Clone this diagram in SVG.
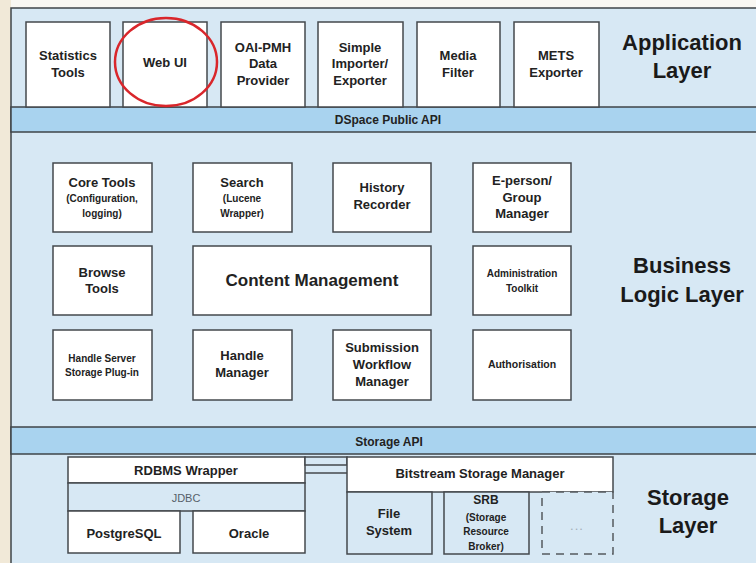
<svg xmlns="http://www.w3.org/2000/svg" width="756" height="563" viewBox="0 0 756 563">
<style>
.bg{fill:#d7e8f4;stroke:#3f4448;stroke-width:1.5}
.bar{fill:#a9d3ef;stroke:#3f4448;stroke-width:1.5}
.box{fill:#ffffff;stroke:#44484c;stroke-width:1.5}
.lbox{fill:#d7e8f4;stroke:#44484c;stroke-width:1.5}
text{font-family:"Liberation Sans",Arial,sans-serif;font-weight:bold;fill:#222;text-anchor:middle}
.t13{font-size:13px}
.t12{font-size:12px}
.t10{font-size:10px}
.big{font-size:22px;fill:#1a1a1a}
</style>
<rect x="0" y="0" width="756" height="563" fill="#f9f7f2"/>
<rect x="0" y="0" width="11" height="563" fill="#f1e9d8"/>
<g id="layers">
<rect class="bg" x="11" y="8" width="760" height="570"/>
<rect class="bar" x="11" y="107" width="760" height="25"/>
<rect class="bar" x="11" y="427" width="760" height="27"/>
<text class="t12" x="388" y="124">DSpace Public API</text>
<text class="t12" x="389" y="446">Storage API</text>
<text class="big" x="682" y="50">Application</text>
<text class="big" x="682" y="78">Layer</text>
<text class="big" x="682" y="273">Business</text>
<text class="big" x="682" y="302">Logic Layer</text>
<text class="big" x="688" y="505">Storage</text>
<text class="big" x="688" y="533">Layer</text>
</g>
<g id="statistics-tools"><rect class="box" x="26" y="22" width="84" height="85"/><text class="t13" x="68" y="60">Statistics</text><text class="t13" x="68" y="77">Tools</text></g>
<g id="web-ui"><rect class="box" x="123" y="22" width="84" height="85"/><text class="t13" x="165" y="67">Web UI</text></g>
<g id="oai-pmh"><rect class="box" x="221" y="22" width="84" height="85"/><text class="t13" x="263" y="52">OAI-PMH</text><text class="t13" x="263" y="68">Data</text><text class="t13" x="263" y="85">Provider</text></g>
<g id="simple-importer"><rect class="box" x="318" y="22" width="85" height="85"/><text class="t13" x="360" y="52">Simple</text><text class="t13" x="360" y="68">Importer/</text><text class="t13" x="360" y="85">Exporter</text></g>
<g id="media-filter"><rect class="box" x="417" y="22" width="83" height="85"/><text class="t13" x="458" y="60">Media</text><text class="t13" x="458" y="77">Filter</text></g>
<g id="mets-exporter"><rect class="box" x="514" y="22" width="85" height="85"/><text class="t13" x="556" y="60">METS</text><text class="t13" x="556" y="77">Exporter</text></g>
<g id="highlight"><ellipse cx="166" cy="62" rx="51" ry="44" fill="none" stroke="#d9262b" stroke-width="2.5"/></g>
<g id="core-tools"><rect class="box" x="53" y="163" width="99" height="69"/><text class="t13" x="102" y="187">Core Tools</text><text class="t10" x="102" y="202">(Configuration,</text><text class="t10" x="102" y="217">logging)</text></g>
<g id="search"><rect class="box" x="193" y="163" width="99" height="69"/><text class="t13" x="242" y="187">Search</text><text class="t10" x="242" y="202">(Lucene</text><text class="t10" x="242" y="217">Wrapper)</text></g>
<g id="history-recorder"><rect class="box" x="333" y="163" width="98" height="69"/><text class="t13" x="382" y="192">History</text><text class="t13" x="382" y="209">Recorder</text></g>
<g id="eperson"><rect class="box" x="473" y="163" width="98" height="69"/><text class="t13" x="522" y="185">E-person/</text><text class="t13" x="522" y="202">Group</text><text class="t13" x="522" y="218">Manager</text></g>
<g id="browse-tools"><rect class="box" x="53" y="246" width="99" height="69"/><text class="t13" x="102" y="277">Browse</text><text class="t13" x="102" y="293">Tools</text></g>
<g id="content-management"><rect class="box" x="193" y="246" width="238" height="69"/><text x="312" y="286" style="font-size:17px">Content Management</text></g>
<g id="administration-toolkit"><rect class="box" x="473" y="246" width="98" height="69"/><text class="t10" x="522" y="277">Administration</text><text class="t10" x="522" y="292">Toolkit</text></g>
<g id="handle-server"><rect class="box" x="53" y="330" width="99" height="70"/><text class="t10" x="102" y="362">Handle Server</text><text class="t10" x="102" y="376">Storage Plug-in</text></g>
<g id="handle-manager"><rect class="box" x="193" y="330" width="99" height="70"/><text class="t13" x="242" y="360">Handle</text><text class="t13" x="242" y="377">Manager</text></g>
<g id="submission-workflow"><rect class="box" x="333" y="330" width="98" height="70"/><text class="t13" x="382" y="352">Submission</text><text class="t13" x="382" y="369">Workflow</text><text class="t13" x="382" y="386">Manager</text></g>
<g id="authorisation"><rect class="box" x="473" y="330" width="98" height="70"/><text x="522" y="368" style="font-size:10.5px">Authorisation</text></g>
<g id="rdbms-wrapper"><rect class="box" x="68" y="457" width="237" height="26"/><text class="t13" x="186" y="475">RDBMS Wrapper</text></g>
<g id="jdbc"><rect class="lbox" x="68" y="483" width="237" height="28"/><text x="186" y="502" style="font-size:11px;font-weight:normal;fill:#56606a">JDBC</text></g>
<g id="postgresql"><rect class="box" x="68" y="511" width="112" height="42"/><text class="t13" x="124" y="538">PostgreSQL</text></g>
<g id="oracle"><rect class="box" x="193" y="511" width="112" height="42"/><text class="t13" x="249" y="538">Oracle</text></g>
<g id="connectors">
<rect x="305" y="457" width="42" height="8" fill="#d7e8f4" stroke="#44484c" stroke-width="1.5"/>
<line x1="305" y1="473" x2="347" y2="473" stroke="#44484c" stroke-width="1.5"/>
</g>
<g id="bitstream-storage-manager"><rect class="box" x="347" y="457" width="266" height="35"/><text class="t13" x="480" y="478">Bitstream Storage Manager</text></g>
<g id="file-system"><rect class="lbox" x="347" y="492" width="85" height="62"/><text class="t13" x="389" y="518">File</text><text class="t13" x="389" y="535">System</text></g>
<g id="srb"><rect class="lbox" x="444" y="492" width="85" height="62"/><text class="t12" x="486" y="504">SRB</text><text class="t10" x="486" y="521">(Storage</text><text class="t10" x="486" y="535">Resource</text><text class="t10" x="486" y="550">Broker)</text></g>
<g id="more"><rect x="542" y="492" width="71" height="62" fill="#d7e8f4" stroke="#55595d" stroke-width="1.5" stroke-dasharray="8,6"/><text x="577" y="530" style="font-size:13px;font-weight:normal;fill:#a4aeb7;letter-spacing:1px">...</text></g>
</svg>
